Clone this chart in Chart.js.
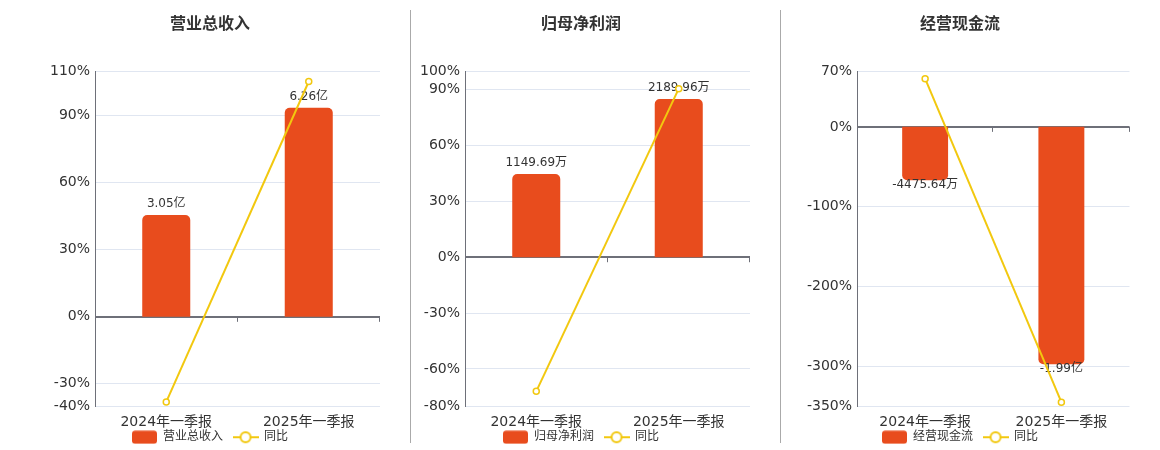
<!DOCTYPE html>
<html>
<head>
<meta charset="utf-8">
<script src="https://cdn.jsdelivr.net/npm/chart.js@4.4.1/dist/chart.umd.min.js"></script>
<style>
  html, body { margin: 0; padding: 0; background: #fff; overflow: hidden; }
  #stage { position: relative; width: 1160px; height: 450px; overflow: hidden; }
  .wrap { position: absolute; top: 0; height: 463px; }
  .divider { position: absolute; top: 10px; height: 433px; width: 1px; background: #aaaaaa; }
</style>
</head>
<body>
<div id="stage">
  <div class="wrap" style="left:0px;width:420px;"><canvas id="c1"></canvas></div>
  <div class="wrap" style="left:406px;width:350px;"><canvas id="c2"></canvas></div>
  <div class="wrap" style="left:785px;width:350px;"><canvas id="c3"></canvas></div>
  <div class="divider" style="left:410px;"></div>
  <div class="divider" style="left:780px;"></div>
</div>
<script>
// ---------- data ----------
const categories = ['2024年一季报', '2025年一季报'];

const revenueTitle = '营业总收入';
const revenueValues = [3.05, 6.26];            // 亿
const revenueLabels = ['3.05亿', '6.26亿'];
const revenueYoY = [-38.1, 105.3];             // %
const revenueTicks = [110, 90, 60, 30, 0, -30, -40];

const profitTitle = '归母净利润';
const profitValues = [1149.69, 2189.96];       // 万
const profitLabels = ['1149.69万', '2189.96万'];
const profitYoY = [-72.0, 90.5];               // %
const profitTicks = [100, 90, 60, 30, 0, -30, -60, -80];

const cashTitle = '经营现金流';
const cashValues = [-4475.64, -19900];         // 万
const cashLabels = ['-4475.64万', '-1.99亿'];
const cashYoY = [60.4, -345.0];                // %
const cashTicks = [70, 0, -100, -200, -300, -350];

const yoyName = '同比';

// ---------- styles ----------
const BAR_COLOR = '#E84C1D';
const LINE_COLOR = '#F2C80F';
const AXIS_COLOR = '#6E7079';
const GRID_COLOR = '#E0E6F1';
const TEXT_COLOR = '#333333';
const FONT = '"DejaVu Sans", "Noto Sans CJK SC", sans-serif';
const TITLE_FONT = '"Noto Sans CJK SC", "DejaVu Sans", sans-serif';

function legendBarIcon() {
  const c = document.createElement('canvas');
  c.width = 25; c.height = 14;
  const g = c.getContext('2d');
  g.fillStyle = BAR_COLOR;
  g.beginPath();
  g.roundRect(0, 0.5, 25, 13, 3);
  g.fill();
  return c;
}
function legendLineIcon() {
  const c = document.createElement('canvas');
  c.width = 26; c.height = 14;
  const g = c.getContext('2d');
  g.strokeStyle = LINE_COLOR;
  g.lineWidth = 2;
  g.beginPath(); g.moveTo(0, 7); g.lineTo(26, 7); g.stroke();
  g.fillStyle = '#fff';
  g.beginPath(); g.arc(13, 7, 5, 0, Math.PI * 2); g.fill(); g.stroke();
  return c;
}

const labelPlugin = {
  id: 'barLabels',
  afterDatasetDraw(chart, args) {
    if (args.meta.type !== 'bar') return;
    const texts = chart.config.options.plugins.barLabels.texts;
    const ctx = chart.ctx;
    ctx.save();
    ctx.font = '12px ' + FONT;
    ctx.fillStyle = TEXT_COLOR;
    ctx.textAlign = 'center';
    ctx.textBaseline = 'middle';
    args.meta.data.forEach((el, i) => {
      const v = chart.data.datasets[args.index].data[i];
      const y = v >= 0 ? el.y - 11 : el.y + 5;
      ctx.fillText(texts[i], el.x, y);
    });
    ctx.restore();
  }
};

const zeroTickPlugin = {
  id: 'zeroTicks',
  beforeDatasetsDraw(chart) {
    const xs = chart.scales.x, ys = chart.scales.y;
    const y0 = ys.getPixelForValue(0);
    const n = chart.data.labels.length;
    const w = (xs.right - xs.left) / n;
    const ctx = chart.ctx;
    ctx.save();
    ctx.strokeStyle = AXIS_COLOR;
    ctx.lineWidth = 1;
    for (let i = 1; i <= n; i++) {
      const x = Math.round(xs.left + i * w) - 0.5;
      ctx.beginPath(); ctx.moveTo(x, y0); ctx.lineTo(x, y0 + 5); ctx.stroke();
    }
    ctx.restore();
  }
};

// pull the legend up close under the category labels
const legendShiftPlugin = {
  id: 'legendShift',
  afterLayout(chart) {
    const lg = chart.legend, xs = chart.scales.x;
    if (!lg || !xs) return;
    const h = lg.height;
    lg.top = xs.top + 15;
    lg.bottom = lg.top + h;
  }
};

function makeChart(id, title, values, texts, yoy, ticks, axisWidth, rightWidth) {
  const yMin = Math.min(...ticks), yMax = Math.max(...ticks);
  const maxAbs = Math.max(...values.map(Math.abs));
  const positive = values.some(v => v > 0);
  const extreme = positive ? yMax : -yMin;
  const fill = 0.85;
  const k = maxAbs / (fill * extreme);
  const barIcon = legendBarIcon(), lineIcon = legendLineIcon();

  return new Chart(document.getElementById(id), {
    data: {
      labels: categories,
      datasets: [
        {
          type: 'bar', label: title, data: values, yAxisID: 'yb', order: 2,
          backgroundColor: BAR_COLOR, borderRadius: 5,
          categoryPercentage: 1, barPercentage: 0.337
        },
        {
          type: 'line', label: yoyName, data: yoy, yAxisID: 'y', order: 1,
          borderColor: LINE_COLOR, borderWidth: 2, tension: 0,
          pointRadius: 3, pointBackgroundColor: '#fff', pointBorderColor: LINE_COLOR,
          pointBorderWidth: 1.5, clip: false
        }
      ]
    },
    options: {
      responsive: true,
      maintainAspectRatio: false,
      animation: false,
      layout: { padding: 0 },
      plugins: {
        tooltip: { enabled: false },
        barLabels: { texts },
        title: {
          display: true, text: title, color: TEXT_COLOR,
          font: { family: TITLE_FONT, size: 16, weight: 'bold' },
          padding: { top: 13, bottom: 38.8 }
        },
        legend: {
          position: 'bottom',
          labels: {
            color: TEXT_COLOR,
            font: { family: FONT, size: 12 },
            usePointStyle: true,
            pointStyleWidth: 25,
            padding: 10,
            generateLabels: () => [
              { text: title, pointStyle: barIcon, fontColor: TEXT_COLOR, datasetIndex: 0, hidden: false, lineWidth: 0 },
              { text: yoyName, pointStyle: lineIcon, fontColor: TEXT_COLOR, datasetIndex: 1, hidden: false, lineWidth: 0 }
            ]
          }
        }
      },
      scales: {
        x: {
          type: 'category',
          offset: true,
          grid: { display: false },
          border: { display: false },
          ticks: { color: TEXT_COLOR, font: { family: FONT, size: 14 }, padding: 0, maxRotation: 0 }
        },
        y: {
          type: 'linear', position: 'left', min: yMin, max: yMax,
          afterBuildTicks: s => { s.ticks = ticks.map(v => ({ value: v })); },
          afterFit: s => { s.width = axisWidth; },
          grid: {
            drawTicks: false,
            color: c => (c.tick && c.tick.value === 0) ? AXIS_COLOR : GRID_COLOR,
            lineWidth: c => (c.tick && c.tick.value === 0) ? 2 : 1
          },
          border: { display: true, color: AXIS_COLOR, width: 1 },
          ticks: {
            autoSkip: false, padding: 5, color: TEXT_COLOR,
            font: { family: FONT, size: 14 },
            callback: v => v + '%'
          }
        },
        yb: {
          type: 'linear', position: 'right', display: true,
          min: yMin * k, max: yMax * k,
          grid: { display: false },
          border: { display: false },
          ticks: { display: false },
          afterFit: s => { s.width = rightWidth; }
        }
      }
    },
    plugins: [labelPlugin, zeroTickPlugin, legendShiftPlugin]
  });
}

makeChart('c1', revenueTitle, revenueValues, revenueLabels, revenueYoY, revenueTicks, 95, 40);
makeChart('c2', profitTitle, profitValues, profitLabels, profitYoY, profitTicks, 59, 6);
makeChart('c3', cashTitle, cashValues, cashLabels, cashYoY, cashTicks, 72, 5);
</script>
</body>
</html>
